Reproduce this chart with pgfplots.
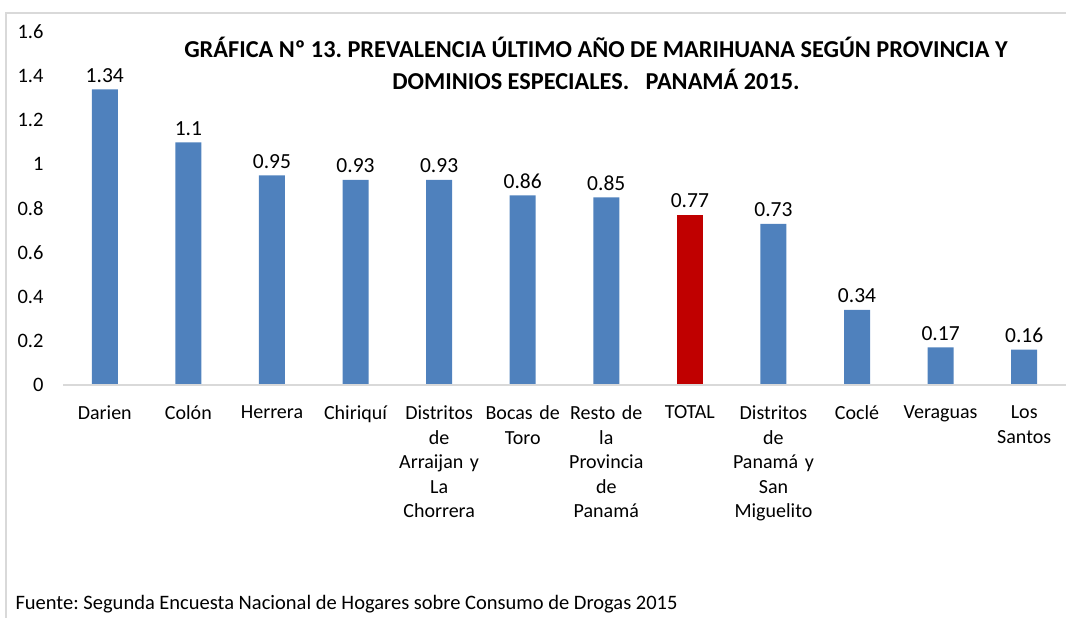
\documentclass[border=0pt]{standalone}
\usepackage{fontspec}
\setmainfont{Carlito}
\usepackage{pgfplots}
\pgfplotsset{compat=1.18}
\definecolor{barblue}{HTML}{4F81BD}
\definecolor{barred}{HTML}{C00000}
\definecolor{linegray}{HTML}{D9D9D9}
\newcommand{\lbl}{\fontsize{20}{24.5}\selectfont}
\frenchspacing
\begin{document}
\begin{tikzpicture}[x=1pt,y=1pt]
\useasboundingbox (0,0) rectangle (1066,618);
\draw[linegray, line width=1.2pt] (6,0) -- (6,605) -- (1066,605);
\begin{axis}[
  at={(63pt,233pt)}, anchor=south west,
  scale only axis, width=1003pt, height=353pt,
  xmin=-0.5, xmax=11.5, ymin=0, ymax=1.6,
  clip=false,
  axis line style={draw=none},
  major tick style={draw=none},
  ytick={0,0.2,0.4,0.6,0.8,1,1.2,1.4,1.6},
  /pgf/number format/assume math mode=true,
  yticklabel style={font=\fontsize{20.5}{24.5}\selectfont, anchor=east, xshift=-16pt},
  xtick={0,1,2,3,4,5,6,7,8,9,10,11},
  xticklabels={Darien, Colón, Herrera, Chiriquí, {Distritos\\de\\Arraijan y\\La\\Chorrera}, {Bocas de\\Toro}, {Resto de\\la\\Provincia\\de\\Panamá}, TOTAL, {Distritos\\de\\Panamá y\\San\\Miguelito}, Coclé, Veraguas, {Los\\Santos}},
  xticklabel style={font=\lbl, align=center, text width=82pt, anchor=north, yshift=-13pt},
  ybar, bar width=26pt, bar shift=0pt,
  nodes near coords,
  every node near coord/.append style={font=\fontsize{21.5}{24.5}\selectfont, black, yshift=3.5pt},
]
\addplot[draw=none, fill=barblue] coordinates {(0,1.34) (1,1.1) (2,0.95) (3,0.93) (4,0.93) (5,0.86) (6,0.85) (8,0.73) (9,0.34) (10,0.17) (11,0.16)};
\addplot[draw=none, fill=barred] coordinates {(7,0.77)};
\draw[linegray, line width=1.2pt] (axis cs:-0.5,0) -- (axis cs:11.5,0);
\end{axis}
\node[font=\fontsize{24.3}{32}\selectfont\bfseries, align=center] at (596,555) {GRÁFICA Nº 13. PREVALENCIA ÚLTIMO AÑO DE MARIHUANA SEGÚN PROVINCIA Y\\DOMINIOS ESPECIALES.\ \ \ PANAMÁ 2015.};
\node[font=\fontsize{20.5}{24.5}\selectfont, anchor=west] at (12,14) {Fuente: Segunda Encuesta Nacional de Hogares sobre Consumo de Drogas 2015};
\end{tikzpicture}
\end{document}
